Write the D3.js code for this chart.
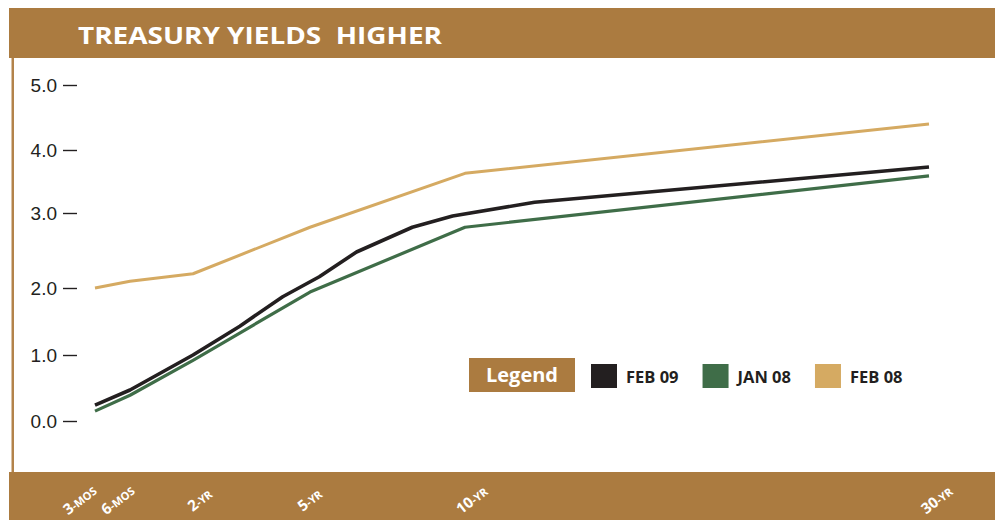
<!DOCTYPE html>
<html>
<head>
<meta charset="utf-8">
<script src="https://cdn.jsdelivr.net/npm/d3@7"></script>
<style>
  body { margin: 0; background: #fff; }
  svg { display: block; }
</style>
</head>
<body>
<svg id="chart" width="995" height="520"></svg>
<script>
// maturities (years) and their labels on the bottom band
var maturities = [0.25, 0.5, 2, 5, 10, 30];
var maturityNums = ["3", "6", "2", "5", "10", "30"];
var maturityUnits = ["-MOS", "-MOS", "-YR", "-YR", "-YR", "-YR"];
var yTicks = [0, 1, 2, 3, 4, 5];

// yields, [maturity in years, yield %]
var feb09 = [[0.25, 0.24], [0.5, 0.47], [2, 1.0], [3.2, 1.43], [4.3, 1.87], [5.3, 2.15],
             [6.5, 2.48], [8.3, 2.81], [9.6, 2.96], [13, 3.17], [30, 3.73]];
var jan08 = [[0.25, 0.15], [0.5, 0.39], [2, 0.92], [5, 1.94], [10, 2.81], [30, 3.59]];
var feb08 = [[0.25, 2.0], [0.5, 2.09], [2, 2.19], [5, 2.81], [10, 3.63], [30, 4.4]];

var seriesNames = ["FEB 09", "JAN 08", "FEB 08"];
var seriesData = [feb09, jan08, feb08];
var seriesColors = ["#231f20", "#3f6d48", "#d5aa62"];
var seriesWidths = [3.6, 3.2, 3];

var band = "#ab7b40";
var svg = d3.select("#chart");

// frame: top band, left rule, bottom band
svg.append("rect").attr("x", 9).attr("y", 8).attr("width", 986).attr("height", 50).attr("fill", band);
svg.append("rect").attr("x", 11.5).attr("y", 58).attr("width", 2.5).attr("height", 414).attr("fill", "#b3834a");
svg.append("rect").attr("x", 9).attr("y", 472).attr("width", 986).attr("height", 48).attr("fill", band);

svg.append("text")
  .attr("x", 78).attr("y", 44)
  .attr("textLength", 364).attr("lengthAdjust", "spacingAndGlyphs")
  .style("white-space", "pre")
  .style("font-family", "'Open Sans', sans-serif").style("font-weight", 700)
  .style("font-size", "24px").attr("fill", "#fff")
  .text("TREASURY YIELDS  HIGHER");

// scales: the printed axis is not evenly spaced, so both are piecewise
var x = d3.scaleLinear().domain(maturities).range([95, 130, 193, 310, 465, 929]);
var y = d3.scaleLinear().domain(yTicks).range([421, 355, 288, 213, 150, 85]);

var yAxis = svg.append("g")
  .attr("transform", "translate(77,0)")
  .call(d3.axisLeft(y).tickValues(yTicks).tickFormat(d3.format(".1f")).tickSize(14).tickPadding(6));
yAxis.select(".domain").remove();
yAxis.selectAll("line").attr("stroke", "#231f20").attr("stroke-width", 1.4);
yAxis.selectAll("text")
  .attr("fill", "#231f20")
  .style("font-family", "'Liberation Sans', Arial, sans-serif")
  .style("font-size", "19px");

// x labels, rotated, in the bottom band
var labelDx = [-12, -9, 10, 3, 10, 11];
var xl = svg.append("g").selectAll("text")
  .data(maturities)
  .enter().append("text")
  .attr("transform", function(d, i) { return "translate(" + (x(d) + labelDx[i]) + ",504) rotate(-38)"; })
  .attr("text-anchor", "middle")
  .attr("fill", "#fff")
  .style("font-family", "'Open Sans', sans-serif").style("font-weight", 700);
xl.append("tspan").style("font-size", "15px").text(function(d, i) { return maturityNums[i]; });
xl.append("tspan").style("font-size", "11px").text(function(d, i) { return maturityUnits[i]; });

// lines, drawn back to front
var line = d3.line().x(function(d) { return x(d[0]); }).y(function(d) { return y(d[1]); });
[2, 1, 0].forEach(function(i) {
  svg.append("path")
    .datum(seriesData[i])
    .attr("d", line)
    .attr("fill", "none")
    .attr("stroke", seriesColors[i])
    .attr("stroke-width", seriesWidths[i])
    .attr("stroke-linejoin", "round");
});

// legend
svg.append("rect").attr("x", 469).attr("y", 358).attr("width", 106).attr("height", 34).attr("fill", band);
svg.append("text")
  .attr("x", 522).attr("y", 382).attr("text-anchor", "middle")
  .attr("fill", "#fff")
  .style("font-family", "'Open Sans', sans-serif").style("font-weight", 700).style("font-size", "20px")
  .text("Legend");

var cursor = 591;
seriesNames.forEach(function(name, i) {
  svg.append("rect").attr("x", cursor).attr("y", 364).attr("width", 26).attr("height", 24).attr("fill", seriesColors[i]);
  var t = svg.append("text")
    .attr("x", cursor + 35).attr("y", 383)
    .attr("fill", "#231f20")
    .style("font-family", "'Open Sans', sans-serif").style("font-weight", 700).style("font-size", "16.5px")
    .text(name);
  cursor += 35 + t.node().getComputedTextLength() + 24;
});
</script>
</body>
</html>
